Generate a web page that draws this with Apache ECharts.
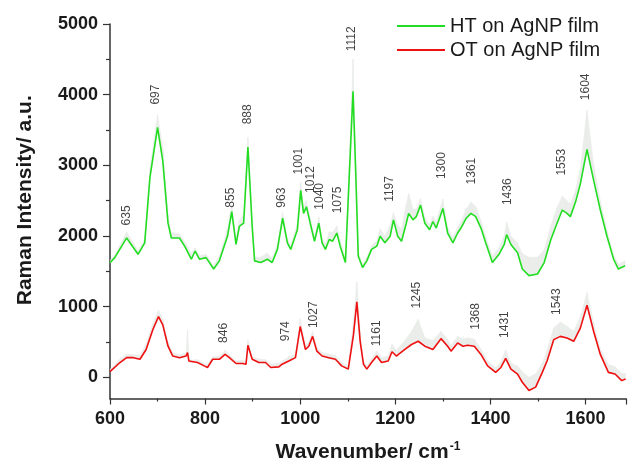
<!DOCTYPE html>
<html>
<head>
<meta charset="utf-8">
<script src="https://cdn.jsdelivr.net/npm/echarts@6/dist/echarts.min.js"></script>
<style>html,body{margin:0;padding:0;background:#fff;}#c{width:629px;height:468px;}</style>
</head>
<body>
<div id="c"></div>
<script>
// ---- HT on AgNP film (green) ----
const htWavenumber = [600,610,635,659,673,684,700,711,722,729,746,757,771,779,788,802,818,830,847,856,865,872,881,890,899,904,917,931,941,952,963,973,980,994,1001,1007,1013,1021,1030,1039,1046,1053,1061,1068,1077,1084,1095,1103,1111,1117,1122,1131,1140,1150,1161,1168,1178,1189,1196,1205,1213,1223,1228,1237,1244,1253,1262,1272,1279,1286,1300,1310,1321,1331,1338,1349,1359,1369,1380,1390,1404,1418,1429,1434,1443,1457,1467,1481,1499,1513,1527,1540,1551,1561,1568,1579,1589,1603,1617,1631,1645,1659,1669,1683];
const htIntensity = [1620,1694,1972,1741,1903,2831,3537,3064,2181,1972,1972,1856,1671,1787,1671,1694,1532,1648,1996,2344,1880,2135,2181,3259,2135,1648,1624,1671,1624,1810,2251,1903,1810,2089,2646,2320,2414,2181,1926,2181,1903,1810,1950,1926,2042,1856,1624,2831,4047,2831,1717,1554,1648,1810,1856,1996,1903,1996,2228,1996,1926,2181,2320,2228,2274,2437,2181,2089,2205,2112,2390,2042,1903,2042,2112,2251,2320,2274,2112,1903,1624,1741,1880,2019,1880,1763,1532,1439,1462,1624,1950,2181,2367,2320,2274,2483,2738,3226,2786,2367,1996,1671,1532,1578];
const htUpper = [1650,1730,2060,1790,1960,2950,3720,3250,2300,2050,2030,1920,1750,1830,1720,1740,1580,1720,2100,2450,1960,2220,2300,3400,2250,1700,1700,1760,1680,1880,2330,1960,1860,2180,2760,2420,2500,2260,1990,2270,1970,1880,2060,2050,2140,1930,1680,3000,4500,3000,1780,1600,1700,1870,1930,2100,2000,2150,2330,2150,2100,2450,2600,2380,2380,2530,2260,2160,2280,2200,2520,2120,1980,2120,2200,2380,2480,2420,2220,1990,1720,1830,2000,2200,2000,1900,1750,1700,1700,1800,2150,2400,2560,2500,2450,2650,2950,3780,3000,2500,2080,1730,1600,1650];

// ---- OT on AgNP film (red) ----
const otWavenumber = [600,603,621,635,649,663,676,690,702,711,722,732,746,760,763,766,769,784,798,805,816,830,842,851,865,879,886,890,899,913,927,938,955,962,976,990,1000,1011,1018,1026,1035,1046,1060,1074,1087,1101,1112,1119,1126,1133,1140,1150,1161,1171,1185,1193,1202,1220,1234,1248,1262,1279,1296,1310,1317,1331,1342,1352,1366,1380,1394,1411,1422,1432,1443,1457,1467,1481,1495,1509,1519,1533,1547,1561,1575,1589,1603,1617,1631,1648,1662,1676,1684];
const otIntensity = [80,92,209,278,278,255,394,673,858,742,440,301,278,301,350,230,209,209,162,139,255,255,324,278,195,195,185,454,255,209,209,139,148,185,231,278,719,394,440,579,370,301,278,255,162,116,603,1067,510,185,116,209,301,209,231,362,301,394,464,510,440,394,547,440,370,487,440,454,440,324,162,70,139,269,116,46,-70,-187,-139,70,231,533,579,557,510,696,1021,649,324,70,46,-47,-23];
const otUpper = [110,130,260,330,320,310,470,760,950,820,500,350,320,340,670,260,240,250,200,180,290,300,380,320,230,240,220,520,290,260,250,190,200,230,290,330,830,450,500,650,420,350,330,310,210,160,800,1350,650,230,160,260,370,280,300,470,380,520,650,820,560,520,650,530,450,580,540,560,540,400,230,140,220,390,200,160,80,0,50,200,380,700,780,720,650,850,1200,760,400,180,150,50,60];

// ---- peak labels ----
const htPeakText = ['635','697','855','888','963','1001','1012','1040','1075','1112','1197','1300','1361','1436','1553','1604'];
const htPeakX    = [635,697,854,889,961,997,1023,1041,1078,1108,1189,1297,1361,1436,1549,1600];
const htPeakY    = [2150,3860,2400,3580,2400,2870,2610,2372,2320,4615,2483,2808,2730,2437,2855,3922];
const otPeakText = ['846','974','1027','1161','1245','1368','1431','1543'];
const otPeakX    = [840,969,1028,1161,1244,1369,1430,1540];
const otPeakY    = [487,510,696,440,975,673,557,882];

// ---- axes ----
const xMin = 600, xMax = 1685, xInterval = 200;
const yMin = -300, yMax = 5000;
const yMajorTicks = [0,1000,2000,3000,4000,5000];
const yMinorTicks = [500,1500,2500,3500,4500];

const FONT = 'Liberation Sans, Arial, sans-serif';
const pairs = (xs, ys) => ys.map((v, i) => [xs[i], v]);
// band segments: [x0, lo0, hi0, x1, lo1, hi1]
const bandSegs = (xs, lo, hi) => xs.slice(0, -1).map((x, i) => [x, lo[i], hi[i], xs[i + 1], lo[i + 1], hi[i + 1]]);
const labelPts = (xs, ys, ts) => ys.map((v, i) => [xs[i], v, ts[i]]);

function bandRender(params, api) {
  const a = api.coord([api.value(0), api.value(1)]);
  const b = api.coord([api.value(3), api.value(4)]);
  const c = api.coord([api.value(3), api.value(5)]);
  const d = api.coord([api.value(0), api.value(2)]);
  return {
    type: 'polygon',
    shape: {points: [a, b, c, d]},
    style: {fill: '#eaedea', stroke: '#eaedea', lineWidth: 0.6}
  };
}

const chart = echarts.init(document.getElementById('c'), null, {renderer: 'canvas'});

const peakLabelStyle = {
  show: true,
  position: [0, 0],
  rotate: 90,
  align: 'left',
  verticalAlign: 'middle',
  fontSize: 12,
  fontFamily: FONT,
  color: '#111111',
  formatter: p => p.data[2]
};

chart.setOption({
  animation: false,
  backgroundColor: '#ffffff',
  grid: {left: 110, right: 0, top: 24, bottom: 64, containLabel: false},
  legend: {
    orient: 'vertical',
    left: 397, top: 16, padding: 0,
    icon: 'rect',
    itemWidth: 48, itemHeight: 2, itemGap: 4,
    data: ['HT on AgNP film', 'OT on AgNP film'],
    textStyle: {fontSize: 20, fontFamily: FONT, color: '#1a1a1a', padding: [0, 0, 0, 0]}
  },
  xAxis: {
    type: 'value', min: xMin, max: xMax, interval: xInterval,
    name: 'Wavenumber/ cm{sup|-1}',
    nameLocation: 'middle', nameGap: 42,
    nameTextStyle: {
      fontSize: 21, fontWeight: 'bold', fontFamily: FONT, color: '#1a1a1a',
      rich: {sup: {fontSize: 12, fontWeight: 'bold', fontFamily: FONT, color: '#1a1a1a', padding: [0, 0, 12, 1]}}
    },
    axisLine: {show: true, onZero: false, lineStyle: {color: '#333', width: 1.5}},
    axisTick: {show: true, inside: false, length: 6, lineStyle: {color: '#333', width: 1.2}},
    minorTick: {show: true, splitNumber: 2, length: 3, lineStyle: {color: '#333', width: 1.2}},
    axisLabel: {fontSize: 18, fontWeight: 'bold', fontFamily: FONT, color: '#1a1a1a', margin: 12,
      formatter: v => (v > 1650 ? '' : String(v))},
    splitLine: {show: false}
  },
  yAxis: [{
    type: 'value', min: yMin, max: yMax,
    name: 'Raman Intensity/ a.u.',
    nameLocation: 'middle', nameGap: 74,
    nameTextStyle: {fontSize: 21, fontWeight: 'bold', fontFamily: FONT, color: '#1a1a1a', padding: [0, 0, 0, 22]},
    axisLine: {show: true, onZero: false, lineStyle: {color: '#333', width: 1.5}},
    axisTick: {show: true, inside: false, length: 7, customValues: yMajorTicks, lineStyle: {color: '#333', width: 1.2}},
    axisLabel: {fontSize: 18, fontWeight: 'bold', fontFamily: FONT, color: '#1a1a1a', margin: 12,
      customValues: yMajorTicks, formatter: v => String(v)},
    splitLine: {show: false}
  }, {
    type: 'value', min: yMin, max: yMax, position: 'left',
    axisLine: {show: false},
    axisTick: {show: true, inside: false, length: 4, customValues: yMinorTicks, lineStyle: {color: '#333', width: 1.2}},
    axisLabel: {show: false, customValues: yMinorTicks},
    splitLine: {show: false}
  }],
  series: [
    {name: 'htBand', type: 'custom', renderItem: bandRender, data: bandSegs(htWavenumber, htIntensity, htUpper),
      encode: {x: [0, 3], y: [1, 2, 4, 5]}, silent: true, z: 1, clip: true},
    {name: 'otBand', type: 'custom', renderItem: bandRender, data: bandSegs(otWavenumber, otIntensity, otUpper),
      encode: {x: [0, 3], y: [1, 2, 4, 5]}, silent: true, z: 1, clip: true},
    {name: 'HT on AgNP film', type: 'line', data: pairs(htWavenumber, htIntensity),
      symbol: 'none', color: '#22dd22', lineStyle: {color: '#22dd22', width: 1.6}, z: 3},
    {name: 'OT on AgNP film', type: 'line', data: pairs(otWavenumber, otIntensity),
      symbol: 'none', color: '#ee1111', lineStyle: {color: '#ee1111', width: 1.6}, z: 3},
    {name: 'htPeaks', type: 'scatter', data: labelPts(htPeakX, htPeakY, htPeakText),
      symbolSize: 0, silent: true, label: peakLabelStyle, z: 4},
    {name: 'otPeaks', type: 'scatter', data: labelPts(otPeakX, otPeakY, otPeakText),
      symbolSize: 0, silent: true, label: peakLabelStyle, z: 4}
  ]
});
</script>
</body>
</html>
